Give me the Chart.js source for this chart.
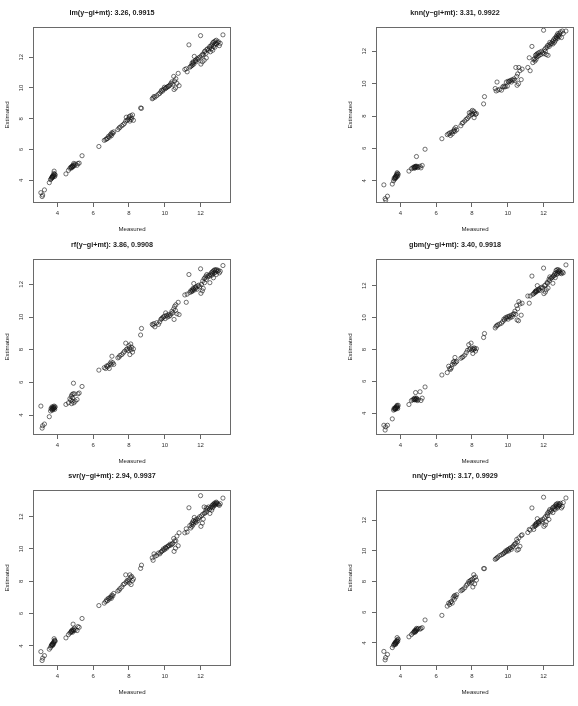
<!DOCTYPE html>
<html><head><meta charset="utf-8">
<script src="https://cdn.jsdelivr.net/npm/chart.js"></script>
<style>
html,body{margin:0;padding:0;background:#fff;}
body{width:578px;height:706px;position:relative;overflow:hidden;}
canvas{position:absolute;}
</style>
</head><body>
<script>
// ---------------- DATA ----------------
const measured = [
 3.08,3.15,3.18,3.28,
 3.55,3.62,3.65,3.68,3.70,3.72,3.72,3.75,3.75,3.78,3.80,3.80,3.82,3.85,3.85,3.88,
 4.48,
 4.62,4.70,4.75,4.78,4.80,4.82,4.85,4.85,4.88,4.90,4.92,4.95,5.00,5.10,5.15,5.22,
 5.38,6.32,
 6.62,6.70,6.75,6.80,6.85,6.90,6.95,7.00,7.02,7.05,7.10,7.15,
 7.38,7.45,7.50,7.60,7.68,7.75,
 7.82,7.85,7.90,7.95,8.00,8.02,8.05,8.10,8.12,8.15,8.20,8.25,
 8.65,8.70,
 9.30,9.35,9.40,9.45,9.55,9.65,
 9.72,9.78,9.82,9.88,9.92,9.98,10.02,10.05,10.10,10.15,10.20,10.25,10.30,
 10.35,10.40,10.45,10.50,10.52,10.55,10.60,10.62,10.68,10.75,10.80,
 11.12,11.20,11.25,11.35,11.40,11.45,
 11.50,11.52,11.55,11.58,11.60,11.62,11.65,11.70,11.72,11.75,11.80,11.85,11.90,11.95,
 12.00,12.02,12.05,12.10,12.12,12.15,12.20,12.22,12.25,12.30,12.32,12.35,12.40,12.45,
 12.50,12.52,12.55,12.60,12.62,12.65,12.68,12.70,12.72,12.75,12.78,12.80,12.82,12.85,12.88,12.90,12.95,13.00,13.05,13.10,13.25
];
const estLm = [
 3.20,2.95,3.05,3.38,
 3.85,4.05,4.10,4.15,4.20,4.18,4.25,4.22,4.30,4.28,4.35,4.45,4.60,4.40,4.25,4.35,
 4.42,
 4.65,4.78,4.85,4.80,4.90,4.85,4.95,4.88,4.92,5.00,5.10,4.95,5.05,4.98,5.10,5.12,
 5.60,6.20,
 6.60,6.65,6.70,6.72,6.85,6.80,6.95,7.00,6.90,7.10,7.05,7.15,
 7.30,7.40,7.45,7.55,7.62,7.70,
 7.85,8.10,7.90,7.95,8.05,8.15,7.85,8.20,7.95,8.05,8.25,7.90,
 8.70,8.68,
 9.30,9.35,9.45,9.40,9.50,9.60,
 9.65,9.75,9.85,9.80,9.90,10.05,9.95,10.00,10.02,10.08,10.10,10.15,10.20,
 10.30,10.40,10.25,10.75,9.90,10.45,10.00,10.60,10.30,10.95,10.15,
 11.20,11.25,11.05,12.80,11.35,11.40,
 11.45,11.60,11.50,11.70,11.65,11.55,12.05,11.75,11.80,11.70,11.90,11.85,11.95,12.00,
 13.40,11.55,12.10,11.70,12.20,12.15,11.80,12.35,12.40,12.25,11.95,12.50,12.55,12.45,
 12.60,12.70,12.35,12.75,12.55,12.85,12.45,12.95,12.70,13.00,12.80,12.65,13.05,12.90,13.10,12.85,12.95,13.00,12.75,12.90,13.45
];
const estKnn = [
 3.75,2.90,2.80,3.05,
 3.80,4.00,4.15,4.10,4.20,4.25,4.15,4.30,4.20,4.35,4.25,4.40,4.50,4.45,4.30,4.40,
 4.60,
 4.75,4.80,4.85,4.78,4.85,4.80,4.90,4.85,4.88,5.50,4.90,4.82,4.85,4.90,4.80,4.95,
 5.95,6.60,
 6.85,6.90,6.95,6.80,7.00,6.90,7.05,7.10,7.20,7.05,7.30,7.15,
 7.40,7.55,7.60,7.70,7.80,7.85,
 7.95,8.20,8.05,8.25,8.10,8.35,8.15,8.30,7.90,8.20,8.10,8.15,
 8.75,9.20,
 9.70,9.55,10.10,9.60,9.65,9.60,
 9.80,9.85,9.80,9.82,10.10,9.85,10.15,10.10,10.15,10.20,10.10,10.25,10.20,
 10.30,10.20,11.00,10.45,9.90,10.60,10.00,11.00,10.80,10.25,10.90,
 11.00,11.60,10.80,12.30,11.30,11.50,
 11.55,11.40,11.75,11.50,11.80,11.65,11.85,11.70,11.90,11.75,11.95,11.80,12.00,11.90,
 13.30,11.85,12.10,12.00,12.20,11.80,12.25,12.35,11.75,12.40,12.30,12.55,12.45,12.50,
 12.60,12.45,12.70,12.55,12.80,12.65,12.75,12.90,12.85,13.00,12.80,13.10,12.95,13.00,12.90,13.10,13.20,12.85,13.25,13.10,13.25
];
const estRf = [
 4.55,3.20,3.35,3.45,
 3.90,4.25,4.40,4.35,4.50,4.30,4.45,4.40,4.35,4.50,4.45,4.40,4.55,4.35,4.45,4.50,
 4.65,
 4.75,5.00,4.90,5.15,4.70,5.25,5.05,4.85,5.30,5.95,4.75,5.30,4.85,4.95,5.30,5.35,
 5.75,6.75,
 6.90,6.85,7.00,6.95,7.05,6.85,7.15,7.25,7.10,7.60,7.20,7.10,
 7.50,7.55,7.65,7.70,7.80,7.90,
 8.40,8.00,8.05,7.95,8.25,8.10,7.70,8.35,8.00,8.15,7.85,8.05,
 8.90,9.30,
 9.55,9.50,9.60,9.40,9.65,9.55,
 9.70,9.85,9.90,9.95,10.00,10.05,9.90,10.25,10.10,10.00,10.15,10.05,10.10,
 10.20,10.35,10.25,10.50,9.85,10.65,10.40,10.75,10.20,10.90,10.15,
 11.35,10.90,11.40,12.60,11.50,11.60,
 11.55,11.65,11.60,11.75,11.70,12.05,11.65,11.80,11.75,11.85,11.70,11.90,11.95,11.85,
 12.95,11.45,12.00,11.60,12.20,11.75,12.35,12.10,12.40,12.50,12.30,12.60,12.45,12.55,
 12.50,12.10,12.60,12.70,12.55,12.75,12.65,12.80,12.40,12.85,12.70,12.90,12.75,12.85,12.60,12.90,12.80,12.85,12.70,12.80,13.15
];
const estGbm = [
 3.25,2.95,3.15,3.25,
 3.65,4.20,4.30,4.25,4.35,4.30,4.25,4.35,4.30,4.40,4.45,4.35,4.50,4.30,4.40,4.50,
 4.55,
 4.80,4.85,4.90,4.85,4.95,4.85,4.90,5.30,4.85,4.95,4.90,4.80,4.85,5.35,4.80,4.95,
 5.65,6.40,
 6.55,6.95,6.80,6.75,6.85,7.05,7.20,7.25,7.10,7.50,7.20,7.25,
 7.45,7.50,7.55,7.65,7.80,7.95,
 8.30,8.00,8.05,8.40,7.95,8.05,7.75,8.00,8.10,8.05,7.90,8.05,
 8.75,9.00,
 9.35,9.45,9.50,9.55,9.60,9.65,
 9.75,9.90,9.85,10.00,9.95,10.05,9.90,10.05,10.10,10.00,10.15,10.05,10.20,
 10.25,10.40,10.20,10.75,9.85,10.55,9.80,11.00,10.85,10.15,10.90,
 11.35,10.90,11.35,12.60,11.45,11.50,
 11.55,11.60,11.65,11.60,11.70,11.65,12.00,11.70,11.75,11.80,11.70,11.85,11.90,11.85,
 13.10,11.50,12.00,11.60,12.05,11.75,12.20,12.15,11.85,12.40,12.30,12.55,12.45,12.50,
 12.55,12.15,12.60,12.65,12.75,12.50,12.80,12.95,12.70,13.00,12.85,12.75,13.00,12.90,12.85,12.95,12.80,12.75,12.85,12.80,13.30
];
const estSvr = [
 3.65,3.10,3.25,3.40,
 3.80,3.90,4.00,4.05,4.10,4.05,4.10,4.15,4.05,4.20,4.25,4.15,4.45,4.30,4.35,4.30,
 4.50,
 4.70,4.80,4.85,4.90,4.95,4.90,5.00,4.85,5.35,5.00,4.95,5.10,5.00,4.95,5.20,5.15,
 5.70,6.50,
 6.65,6.75,6.85,6.80,6.95,6.90,7.00,7.05,6.95,7.15,7.10,7.25,
 7.40,7.45,7.55,7.65,7.80,7.85,
 8.40,7.95,8.05,8.00,8.10,7.90,8.40,8.25,7.80,8.30,8.05,8.15,
 8.80,9.00,
 9.45,9.30,9.70,9.55,9.60,9.75,
 9.70,9.80,9.85,9.90,10.00,9.95,10.05,10.10,10.05,10.15,10.20,10.20,10.30,
 10.25,10.30,10.35,10.65,9.85,10.50,10.05,10.50,10.80,10.20,11.00,
 11.00,11.25,11.05,12.55,11.45,11.30,
 11.55,11.40,11.65,11.50,11.75,11.60,11.95,11.70,11.80,11.65,11.85,11.75,11.90,12.00,
 13.30,11.40,12.05,11.60,12.15,11.85,12.60,12.20,12.25,12.40,12.55,12.30,12.50,12.60,
 12.45,12.20,12.55,12.60,12.40,12.70,12.55,12.75,12.65,12.80,12.70,12.85,12.75,12.80,12.90,12.85,12.80,12.75,12.70,12.80,13.15
];
const estNn = [
 3.45,2.90,3.05,3.25,
 3.70,3.85,3.90,3.95,4.00,3.90,4.05,4.00,3.95,4.10,4.15,4.05,4.35,4.20,4.10,4.25,
 4.40,
 4.55,4.65,4.70,4.75,4.80,4.70,4.85,4.75,4.80,4.95,4.85,4.90,4.95,4.90,4.95,5.00,
 5.50,5.80,
 6.40,6.60,6.50,6.65,6.70,6.60,6.95,7.05,6.85,7.10,7.00,7.15,
 7.40,7.45,7.50,7.60,7.75,7.85,
 8.00,7.90,8.05,8.10,7.95,8.15,7.65,8.45,8.25,7.85,8.30,8.10,
 8.85,8.85,
 9.45,9.50,9.55,9.60,9.70,9.75,
 9.80,9.85,9.90,10.00,9.95,10.05,10.10,10.00,10.15,10.20,10.10,10.25,10.30,
 10.40,10.45,10.50,10.75,10.05,10.60,10.10,10.85,10.30,11.00,11.05,
 11.20,11.40,11.35,12.80,11.55,11.40,
 11.60,11.70,11.65,11.75,11.80,11.70,12.10,11.85,11.90,11.80,11.95,12.00,11.90,12.05,
 13.50,11.60,12.15,11.70,12.25,11.90,12.40,12.30,12.50,12.05,12.60,12.70,12.55,12.65,
 12.80,12.50,12.85,12.75,12.90,12.70,13.00,12.85,13.05,12.95,12.80,13.10,12.90,13.00,13.05,12.95,13.10,12.80,12.90,13.15,13.45
];
const panelTitles = [
 'lm(y~gi+mt): 3.26, 0.9915', 'knn(y~gi+mt): 3.31, 0.9922',
 'rf(y~gi+mt): 3.86, 0.9908', 'gbm(y~gi+mt): 3.40, 0.9918',
 'svr(y~gi+mt): 2.94, 0.9937', 'nn(y~gi+mt): 3.17, 0.9929'
];
const panelEstimates = [estLm, estKnn, estRf, estGbm, estSvr, estNn];
const xTicks = [4, 6, 8, 10, 12];
const yTicks = [4, 6, 8, 10, 12];
const xLimits = [2.64, 13.70];
const yLimits = [[2.53,13.96],[2.63,13.50],[2.78,13.55],[2.64,13.67],[2.76,13.65],[2.50,13.97]];
const xLabel = 'Measured';
const yLabel = 'Estimated';

// ---------------- LAYOUT ----------------
const boxes = [
 {l:33,t:27,r:231,b:203,ty:13},{l:376,t:27,r:574,b:203,ty:13},
 {l:33,t:259,r:231,b:435,ty:245},{l:376,t:259,r:574,b:435,ty:245},
 {l:33,t:490,r:231,b:666,ty:476},{l:376,t:490,r:574,b:666,ty:476}
];
const FONT = "'Liberation Sans', Arial, Helvetica, sans-serif";
Chart.defaults.font.family = FONT;

const boxPlugin = {
  id: 'rbox',
  afterDatasetsDraw(chart) {
    const a = chart.chartArea, ctx = chart.ctx;
    ctx.save();
    ctx.strokeStyle = '#6a6a6a';
    ctx.lineWidth = 1;
    ctx.strokeRect(Math.round(a.left)+0.5, Math.round(a.top)+0.5,
                   Math.round(a.right-a.left)-1, Math.round(a.bottom-a.top)-1);
    ctx.restore();
  }
};

const LEFTW = 40, BOTH = 36, RIGHTP = 4, TOPREL = 12;

boxes.forEach((bx, i) => {
  const cv = document.createElement('canvas');
  const cl = bx.l - LEFTW, ct = bx.ty - TOPREL;
  const cw = (bx.r - bx.l) + LEFTW + RIGHTP;
  const ch = (bx.b - ct) + BOTH;
  cv.width = cw; cv.height = ch;
  cv.style.left = cl + 'px'; cv.style.top = ct + 'px';
  cv.style.width = cw + 'px'; cv.style.height = ch + 'px';
  document.body.appendChild(cv);

  const titleSize = 7.2, titleLH = titleSize * 1.2;
  const padTop = TOPREL - titleLH / 2;
  const padBot = (bx.t - ct) - padTop - titleLH;
  const est = panelEstimates[i];
  const pts = measured.map((x, k) => ({x: x, y: est[k]}));

  new Chart(cv, {
    type: 'scatter',
    data: { datasets: [{
      data: pts,
      pointStyle: 'circle',
      pointRadius: 2.1,
      pointBorderWidth: 0.8,
      borderColor: 'rgba(20,20,20,0.75)',
      backgroundColor: 'rgba(0,0,0,0)',
      pointHoverRadius: 2.1
    }]},
    options: {
      responsive: false,
      animation: false,
      events: [],
      devicePixelRatio: 1,
      layout: { padding: {left: 0, right: RIGHTP, top: 0, bottom: 0} },
      plugins: {
        legend: {display: false},
        tooltip: {enabled: false},
        title: {
          display: true, text: panelTitles[i], color: '#1a1a1a',
          font: {size: titleSize, weight: 'bold', family: FONT, lineHeight: 1.2},
          padding: {top: padTop, bottom: padBot}
        }
      },
      scales: {
        x: {
          type: 'linear', position: 'bottom',
          min: xLimits[0], max: xLimits[1],
          afterBuildTicks: s => { s.ticks = xTicks.map(v => ({value: v})); },
          afterFit: s => { s.height = BOTH; },
          border: {display: false},
          grid: {drawOnChartArea: false, drawTicks: true, tickLength: 4, color: '#666', lineWidth: 1},
          ticks: {font: {size: 6, family: FONT}, color: '#333', padding: 3, maxRotation: 0, autoSkip: false,
                  callback: v => String(v)},
          title: {display: true, text: xLabel, color: '#222', font: {size: 6.1, family: FONT, lineHeight: 1.2},
                  padding: {top: 0, bottom: 6.3}}
        },
        y: {
          type: 'linear', position: 'left',
          min: yLimits[i][0], max: yLimits[i][1],
          afterBuildTicks: s => { s.ticks = yTicks.map(v => ({value: v})); },
          afterFit: s => { s.width = LEFTW; },
          border: {display: false},
          grid: {drawOnChartArea: false, drawTicks: true, tickLength: 4, color: '#666', lineWidth: 1},
          ticks: {font: {size: 6, family: FONT}, color: '#333', padding: 4, minRotation: 90, maxRotation: 90,
                  crossAlign: 'center', autoSkip: false, callback: v => String(v)},
          title: {display: true, text: yLabel, color: '#222', font: {size: 6.1, family: FONT, lineHeight: 1.2},
                  padding: {top: 10.3, bottom: 0}}
        }
      }
    },
    plugins: [boxPlugin]
  });
});
</script>
</body></html>
